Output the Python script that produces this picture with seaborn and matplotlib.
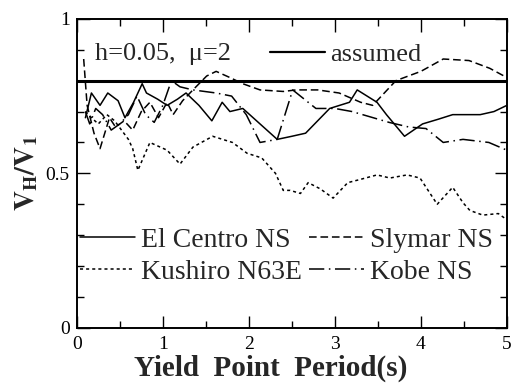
import matplotlib
matplotlib.use("Agg")
import matplotlib.pyplot as plt
import seaborn as sns
import pandas as pd
from matplotlib.lines import Line2D
from matplotlib.ticker import MultipleLocator

# ---- data ----
elcentro_x = [0.1, 0.17, 0.27, 0.36, 0.48, 0.56, 0.66, 0.76, 0.81, 0.94, 1.05, 1.17, 1.27, 1.42, 1.57,
              1.69, 1.78, 1.93, 2.13, 2.33, 2.5, 2.66, 2.94, 3.17, 3.26, 3.49, 3.6, 3.81, 4.02, 4.2,
              4.37, 4.55, 4.69, 4.85, 5.0]
elcentro_y = [0.68, 0.76, 0.72, 0.76, 0.735, 0.68, 0.73, 0.79, 0.76, 0.74, 0.72, 0.74, 0.76, 0.72, 0.67,
              0.73, 0.70, 0.71, 0.66, 0.61, 0.62, 0.63, 0.71, 0.73, 0.77, 0.73, 0.69, 0.62, 0.66, 0.675,
              0.69, 0.69, 0.69, 0.70, 0.72]

slymar_x = [0.08, 0.12, 0.2, 0.27, 0.38, 0.45, 0.55, 0.65, 0.75, 0.85, 0.95, 1.05, 1.12, 1.23, 1.35,
            1.51, 1.62, 1.78, 1.93, 2.13, 2.4, 2.55, 2.8, 3.05, 3.3, 3.44, 3.71, 4.0, 4.26, 4.56, 4.8, 5.0]
slymar_y = [0.87, 0.72, 0.63, 0.58, 0.68, 0.65, 0.67, 0.64, 0.70, 0.73, 0.68, 0.73, 0.69, 0.735, 0.77,
            0.815, 0.83, 0.81, 0.79, 0.77, 0.765, 0.77, 0.77, 0.76, 0.73, 0.72, 0.80, 0.83, 0.87, 0.865,
            0.84, 0.81]

kushiro_x = [0.1, 0.17, 0.25, 0.35, 0.44, 0.52, 0.6, 0.65, 0.71, 0.85, 1.05, 1.2, 1.35, 1.58, 1.81, 1.98,
             2.15, 2.31, 2.4, 2.48, 2.6, 2.69, 2.83, 2.98, 3.15, 3.29, 3.49, 3.64, 3.84, 3.99, 4.19,
             4.37, 4.49, 4.57, 4.72, 4.9, 5.0]
kushiro_y = [0.70, 0.68, 0.66, 0.69, 0.67, 0.64, 0.61, 0.58, 0.51, 0.60, 0.575, 0.53, 0.585, 0.62, 0.60,
             0.565, 0.55, 0.50, 0.445, 0.445, 0.435, 0.47, 0.45, 0.42, 0.47, 0.48, 0.495, 0.485, 0.495,
             0.485, 0.40, 0.455, 0.405, 0.38, 0.365, 0.37, 0.35]

kobe_x = [0.1, 0.15, 0.22, 0.3, 0.4, 0.5, 0.6, 0.7, 0.8, 0.9, 1.0, 1.1, 1.2, 1.35, 1.62, 1.8, 1.97, 2.13,
          2.33, 2.51, 2.78, 3.0, 3.2, 3.63, 3.86, 4.06, 4.26, 4.49, 4.79, 5.0]
kobe_y = [0.70, 0.66, 0.71, 0.69, 0.64, 0.66, 0.69, 0.75, 0.69, 0.665, 0.72, 0.80, 0.78, 0.77, 0.76,
          0.75, 0.69, 0.60, 0.61, 0.77, 0.71, 0.71, 0.70, 0.665, 0.65, 0.645, 0.60, 0.61, 0.60, 0.575]

assumed_level = 0.8

series_names = ["El Centro NS", "Slymar NS", "Kushiro N63E", "Kobe NS"]
x_ticks = [0, 1, 2, 3, 4, 5]
y_ticks = [0, 0.5, 1]
y_tick_labels = ["0", "0.5", "1"]

# ---- styling ----
sns.set_theme(style="ticks")
plt.rcParams["font.family"] = ["Liberation Serif", "DejaVu Serif"]
plt.rcParams["mathtext.fontset"] = "stix"

fig = plt.figure(figsize=(5.12, 3.84), dpi=100)
ax = fig.add_axes([0.150, 0.146, 0.840, 0.805])

styles = {
    "El Centro NS": "-",
    "Slymar NS": (0, (5, 2.5)),
    "Kushiro N63E": (0, (2, 2)),
    "Kobe NS": (0, (10, 3, 1, 3)),
}
data = {
    "El Centro NS": (elcentro_x, elcentro_y),
    "Slymar NS": (slymar_x, slymar_y),
    "Kushiro N63E": (kushiro_x, kushiro_y),
    "Kobe NS": (kobe_x, kobe_y),
}
for name in series_names:
    xs, ys = data[name]
    df = pd.DataFrame({"x": xs, "y": ys})
    sns.lineplot(data=df, x="x", y="y", ax=ax, color="black", linewidth=1.1,
                 linestyle=styles[name], sort=False, legend=False)

ax.axhline(assumed_level, color="black", linewidth=2.2)

ax.set_xlim(0, 5)
ax.set_ylim(0, 1)
ax.set_xticks(x_ticks)
ax.set_xticklabels([str(t) for t in x_ticks])
ax.set_yticks(y_ticks)
ax.set_yticklabels(y_tick_labels)
ax.xaxis.set_minor_locator(MultipleLocator(0.5))
ax.yaxis.set_minor_locator(MultipleLocator(0.1))
ax.tick_params(which="both", direction="in", top=True, right=True, colors="black",
               labelsize=14, width=1.0)
ax.tick_params(which="major", length=9)
ax.tick_params(axis="x", which="major", pad=6)
ax.tick_params(axis="y", which="major", pad=5)
ax.tick_params(which="minor", length=5)
for s in ax.spines.values():
    s.set_linewidth(1.4)
    s.set_color("black")

ax.set_xlabel("Yield  Point  Period(s)", fontsize=21, fontweight="bold", va="center")
ax.xaxis.set_label_coords(0.451, -0.13)
ax.set_ylabel(r"$\mathbf{V_{H}/V_{1}}$", fontsize=20, labelpad=4)

# lower legend (row order: El Centro, Slymar / Kushiro, Kobe)
order = ["El Centro NS", "Kushiro N63E", "Slymar NS", "Kobe NS"]
handles = [Line2D([], [], color="black", linewidth=1.1, linestyle=styles[n]) for n in order]
leg = ax.legend(handles, order, ncol=2, loc="center left", bbox_to_anchor=(0.007, 0.232),
                frameon=False, fontsize=20, handlelength=2.0, handletextpad=0.2,
                columnspacing=0.25, labelspacing=0.25, borderaxespad=0, borderpad=0)
ax.add_artist(leg)

# upper legend
leg2 = ax.legend([Line2D([], [], color="black", linewidth=1.6)], ["assumed"], loc="center left",
                 bbox_to_anchor=(0.449, 0.885), frameon=False, fontsize=19, handlelength=2.1,
                 handletextpad=0.2, borderaxespad=0, borderpad=0)
ax.text(0.042, 0.885, "h=0.05,  μ=2", transform=ax.transAxes, fontsize=19, ha="left", va="center")

fig.savefig("out.png", dpi=100)
